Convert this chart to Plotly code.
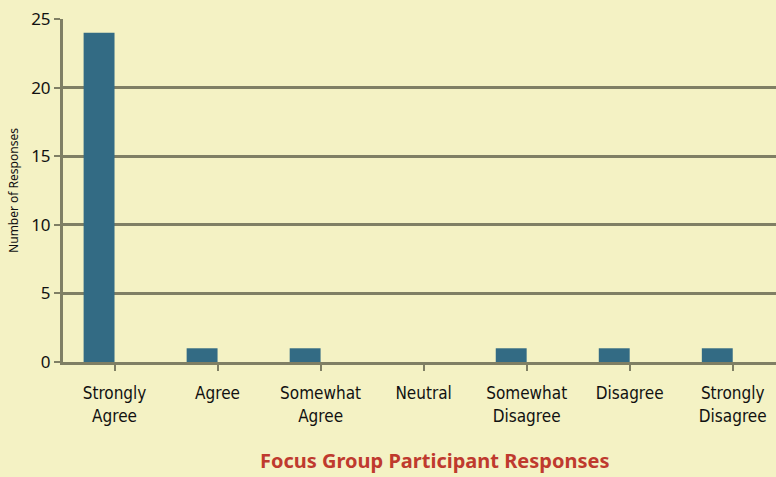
import plotly.graph_objects as go

categories = ["Strongly<br>Agree", "Agree", "Somewhat<br>Agree", "Neutral",
              "Somewhat<br>Disagree", "Disagree", "Strongly<br>Disagree"]
responses = [24, 1, 1, 0, 1, 1, 1]
y_ticks = [0, 5, 10, 15, 20, 25]

BG = "#f4f2c4"
BAR = "#336b84"
GRID = "#7f7f64"
RED = "#bf3a2e"

fig = go.Figure()
fig.add_trace(go.Bar(
    x=list(range(len(categories))), y=responses,
    marker=dict(color=BAR, line=dict(width=0)),
    width=0.3, offset=-0.3,
    hoverinfo="x+y",
))

fig.update_layout(
    width=776, height=477,
    margin=dict(l=63, r=0, t=19, b=115),
    paper_bgcolor=BG, plot_bgcolor=BG,
    showlegend=False,
    font=dict(family="Noto Sans, DejaVu Sans", color="#111111"),
    xaxis=dict(
        tickmode="array",
        tickvals=list(range(len(categories))),
        ticktext=categories,
        range=[-0.5, 6.42],
        showgrid=False, zeroline=False,
        showline=True, linecolor=GRID, linewidth=3,
        ticks="outside", ticklen=6, tickwidth=2, tickcolor=GRID,
        ticklabelstandoff=8,
        tickfont=dict(family="Liberation Sans Narrow, DejaVu Sans Condensed", size=17, color="#111111"),
        fixedrange=True,
    ),
    yaxis=dict(
        range=[0, 25],
        tickvals=y_ticks,
        showgrid=True, gridcolor=GRID, gridwidth=3,
        zeroline=False,
        showline=True, linecolor=GRID, linewidth=3,
        ticks="outside", ticklen=6, tickwidth=2, tickcolor=GRID,
        tickfont=dict(family="Noto Sans", size=17, color="#111111"),
        title=dict(text="Number of Responses", font=dict(family="Noto Sans", size=12, color="#111111"), standoff=10),
        fixedrange=True,
    ),
)

# x-axis title
fig.add_annotation(
    text="<b>Focus Group Participant Responses</b>",
    xref="paper", yref="paper", x=(434.5 - 63) / 713, y=-0.333,
    xanchor="center", yanchor="bottom", showarrow=False,
    font=dict(family="Noto Sans", size=20, color=RED),
)

fig.write_html("out.html", config={"displayModeBar": False},
               post_script="document.body.style.margin='0';")
